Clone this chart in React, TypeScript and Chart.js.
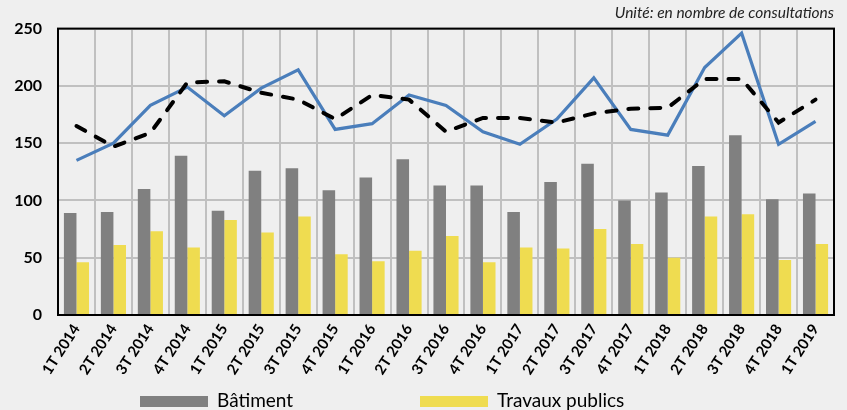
import React, { useEffect, useRef } from "react";
import { Chart, registerables } from "chart.js";

Chart.register(...registerables);

const categories = [
  "1T 2014", "2T 2014", "3T 2014", "4T 2014",
  "1T 2015", "2T 2015", "3T 2015", "4T 2015",
  "1T 2016", "2T 2016", "3T 2016", "4T 2016",
  "1T 2017", "2T 2017", "3T 2017", "4T 2017",
  "1T 2018", "2T 2018", "3T 2018", "4T 2018",
  "1T 2019",
];

const batiment = [89, 90, 110, 139, 91, 126, 128, 109, 120, 136, 113, 113, 90, 116, 132, 100, 107, 130, 157, 101, 106];
const travauxPublics = [46, 61, 73, 59, 83, 72, 86, 53, 47, 56, 69, 46, 59, 58, 75, 62, 50, 86, 88, 48, 62];
const blueLine = [135, 150, 183, 199, 174, 198, 214, 162, 167, 192, 183, 160, 149, 171, 207, 162, 157, 216, 246, 149, 169];
const dashedLine = [165, 147, 159, 203, 204, 194, 188, 171, 192, 188, 160, 172, 172, 168, 176, 180, 181, 206, 206, 168, 188];

const yTicks = [0, 50, 100, 150, 200, 250];
const unitLabel = "Unité: en nombre de consultations";
const legendNames = ["Bâtiment", "Travaux publics"];

const FONT = "Lato, 'Open Sans', sans-serif";
const GRAY = "#808080";
const YELLOW = "#efdc50";
const BLUE = "#4a7ebb";

const framePlugin = {
  id: "frame",
  afterDatasetsDraw(chart: any) {
    const { ctx, chartArea } = chart;
    ctx.save();
    ctx.strokeStyle = "#000";
    ctx.lineWidth = 2;
    ctx.strokeRect(chartArea.left, chartArea.top, chartArea.right - chartArea.left, chartArea.bottom - chartArea.top);
    ctx.restore();
  },
};

export default function App() {
  const ref = useRef<HTMLCanvasElement | null>(null);

  useEffect(() => {
    if (!ref.current) return;
    const chart = new Chart(ref.current, {
      type: "bar",
      data: {
        labels: categories,
        datasets: [
          {
            type: "line",
            label: "Ligne",
            data: blueLine,
            borderColor: BLUE,
            borderWidth: 3.2,
            pointRadius: 0,
            tension: 0,
            order: 1,
          } as any,
          {
            type: "line",
            label: "Tendance",
            data: dashedLine,
            borderColor: "#000",
            borderWidth: 4,
            borderDash: [10, 12],
            borderCapStyle: "round",
            pointRadius: 0,
            tension: 0,
            order: 0,
          } as any,
          {
            label: legendNames[0],
            data: batiment,
            backgroundColor: GRAY,
            categoryPercentage: 0.68,
            barPercentage: 1,
            order: 2,
          },
          {
            label: legendNames[1],
            data: travauxPublics,
            backgroundColor: YELLOW,
            categoryPercentage: 0.68,
            barPercentage: 1,
            order: 2,
          },
        ],
      },
      options: {
        responsive: false,
        animation: false,
        layout: { padding: { left: 0, right: 13, top: 0, bottom: 28 } },
        plugins: {
          legend: { display: false },
          tooltip: { enabled: false },
          title: {
            display: true,
            text: unitLabel,
            align: "end",
            color: "#222",
            font: { family: FONT, size: 15.5, style: "italic", weight: "normal", lineHeight: 1.2 },
            padding: { top: 4, bottom: 6 },
          },
        },
        scales: {
          x: {
            grid: { color: "#c0c0c0", lineWidth: 2, drawTicks: false, offset: true },
            border: { display: false },
            ticks: {
              color: "#000",
              font: { family: FONT, size: 15, weight: "bold" },
              minRotation: 57,
              maxRotation: 57,
              autoSkip: false,
              padding: 6,
            },
            afterFit(scale: any) {
              scale.height = 67;
            },
          },
          y: {
            min: 0,
            max: 250,
            afterBuildTicks(scale: any) {
              scale.ticks = yTicks.map((v) => ({ value: v }));
            },
            grid: { color: "#c0c0c0", lineWidth: 2, drawTicks: false },
            border: { display: false },
            ticks: {
              color: "#000",
              font: { family: FONT, size: 16, weight: "bold" },
              padding: 16,
            },
            afterFit(scale: any) {
              scale.width = 58;
            },
          },
        },
      },
      plugins: [framePlugin],
    });
    return () => chart.destroy();
  }, []);

  const legendItem = (color: string, text: string, left: number) => (
    <div
      style={{
        position: "absolute",
        left,
        top: 388,
        height: 24,
        display: "flex",
        alignItems: "center",
        fontFamily: FONT,
        fontSize: 19,
        lineHeight: "24px",
        color: "#000",
        whiteSpace: "nowrap",
      }}
    >
      <div style={{ width: 68, height: 11, background: color, marginRight: 9, marginTop: 2 }} />
      <span>{text}</span>
    </div>
  );

  return (
    <div
      style={{
        position: "absolute",
        left: 0,
        top: 0,
        width: 847,
        height: 410,
        background: "#efefef",
        overflow: "hidden",
      }}
    >
      <canvas ref={ref} width={847} height={410} style={{ display: "block" }} />
      {legendItem(GRAY, legendNames[0], 140)}
      {legendItem(YELLOW, legendNames[1], 420)}
    </div>
  );
}
